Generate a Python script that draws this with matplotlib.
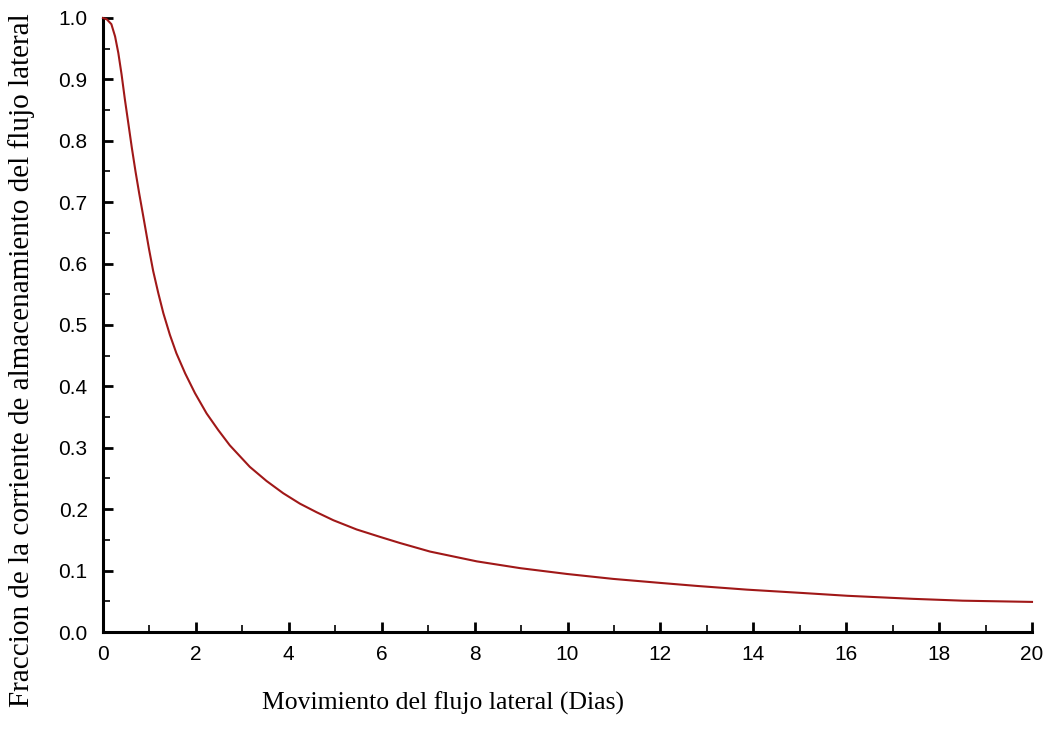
import matplotlib
matplotlib.use("Agg")
import matplotlib.pyplot as plt
from matplotlib.ticker import MultipleLocator, FixedLocator

# Data
dias = [0, 0.08, 0.18, 0.26, 0.33, 0.40, 0.47, 0.55, 0.62, 0.70, 0.78, 0.86,
        0.99, 1.08, 1.19, 1.30, 1.44, 1.58, 1.77, 1.98, 2.23, 2.48, 2.73,
        3.16, 3.52, 3.88, 4.24, 4.60, 4.96, 5.46, 5.96, 6.39, 7.04, 8.05,
        8.98, 9.99, 10.98, 11.99, 12.79, 13.86, 15.07, 16.02, 17.44, 18.51,
        20]
fraccion = [1.0, 0.998, 0.990, 0.970, 0.943, 0.908, 0.868, 0.826, 0.789,
            0.750, 0.714, 0.680, 0.624, 0.588, 0.552, 0.519, 0.484, 0.454,
            0.421, 0.389, 0.356, 0.329, 0.304, 0.269, 0.246, 0.226, 0.209,
            0.195, 0.182, 0.167, 0.155, 0.145, 0.131, 0.115, 0.104, 0.0945,
            0.0865, 0.0800, 0.075, 0.069, 0.0635, 0.059, 0.054, 0.051, 0.049]
x_ticks = [0, 2, 4, 6, 8, 10, 12, 14, 16, 18, 20]
y_ticks = [0.0, 0.1, 0.2, 0.3, 0.4, 0.5, 0.6, 0.7, 0.8, 0.9, 1.0]
y_ticklabels = ["0.0", "0.1", "0.2", "0.3", "0.4", "0.5", "0.6", "0.7",
                "0.8", "0.9", "1.0"]
x_label = "Movimiento del flujo lateral (Dias)"
y_label = "Fraccion de la corriente de almacenamiento del flujo lateral"

W, H = 1044, 734
fig = plt.figure(figsize=(W / 100, H / 100), dpi=100)
ax = fig.add_axes([103 / W, 1 - 632 / H, (1032 - 103) / W, (632 - 18) / H])

ax.plot(dias, fraccion, color="#a01818", lw=1.5, clip_on=False, zorder=3,
        solid_joinstyle="round")

ax.set_xlim(0, 20)
ax.set_ylim(0, 1.0)
ax.xaxis.set_major_locator(FixedLocator(x_ticks))
ax.xaxis.set_minor_locator(MultipleLocator(1))
ax.yaxis.set_major_locator(FixedLocator(y_ticks))
ax.yaxis.set_minor_locator(MultipleLocator(0.05))
ax.set_xticklabels([str(t) for t in x_ticks])
ax.set_yticklabels(y_ticklabels)

for s in ("top", "right"):
    ax.spines[s].set_visible(False)
for s in ("left", "bottom"):
    ax.spines[s].set_linewidth(2.2)
    ax.spines[s].set_color("black")

tickfont = "Liberation Sans"
ax.tick_params(which="major", direction="in", length=7, width=2.0,
               colors="black", labelsize=15)
ax.tick_params(which="minor", direction="in", length=5, width=1.2,
               colors="black")
ax.tick_params(axis="x", which="major", pad=9)
ax.tick_params(axis="y", which="major", pad=11)
for lab in ax.get_xticklabels() + ax.get_yticklabels():
    lab.set_fontfamily(tickfont)

fig.text(443 / W, 1 - 703 / H, x_label, ha="center", va="center",
         fontsize=18.5, family="Liberation Serif")
fig.text(22 / W, 1 - 360 / H, y_label, ha="center", va="center",
         rotation=90, fontsize=21, family="Liberation Serif")

fig.savefig("out.png", dpi=100)
